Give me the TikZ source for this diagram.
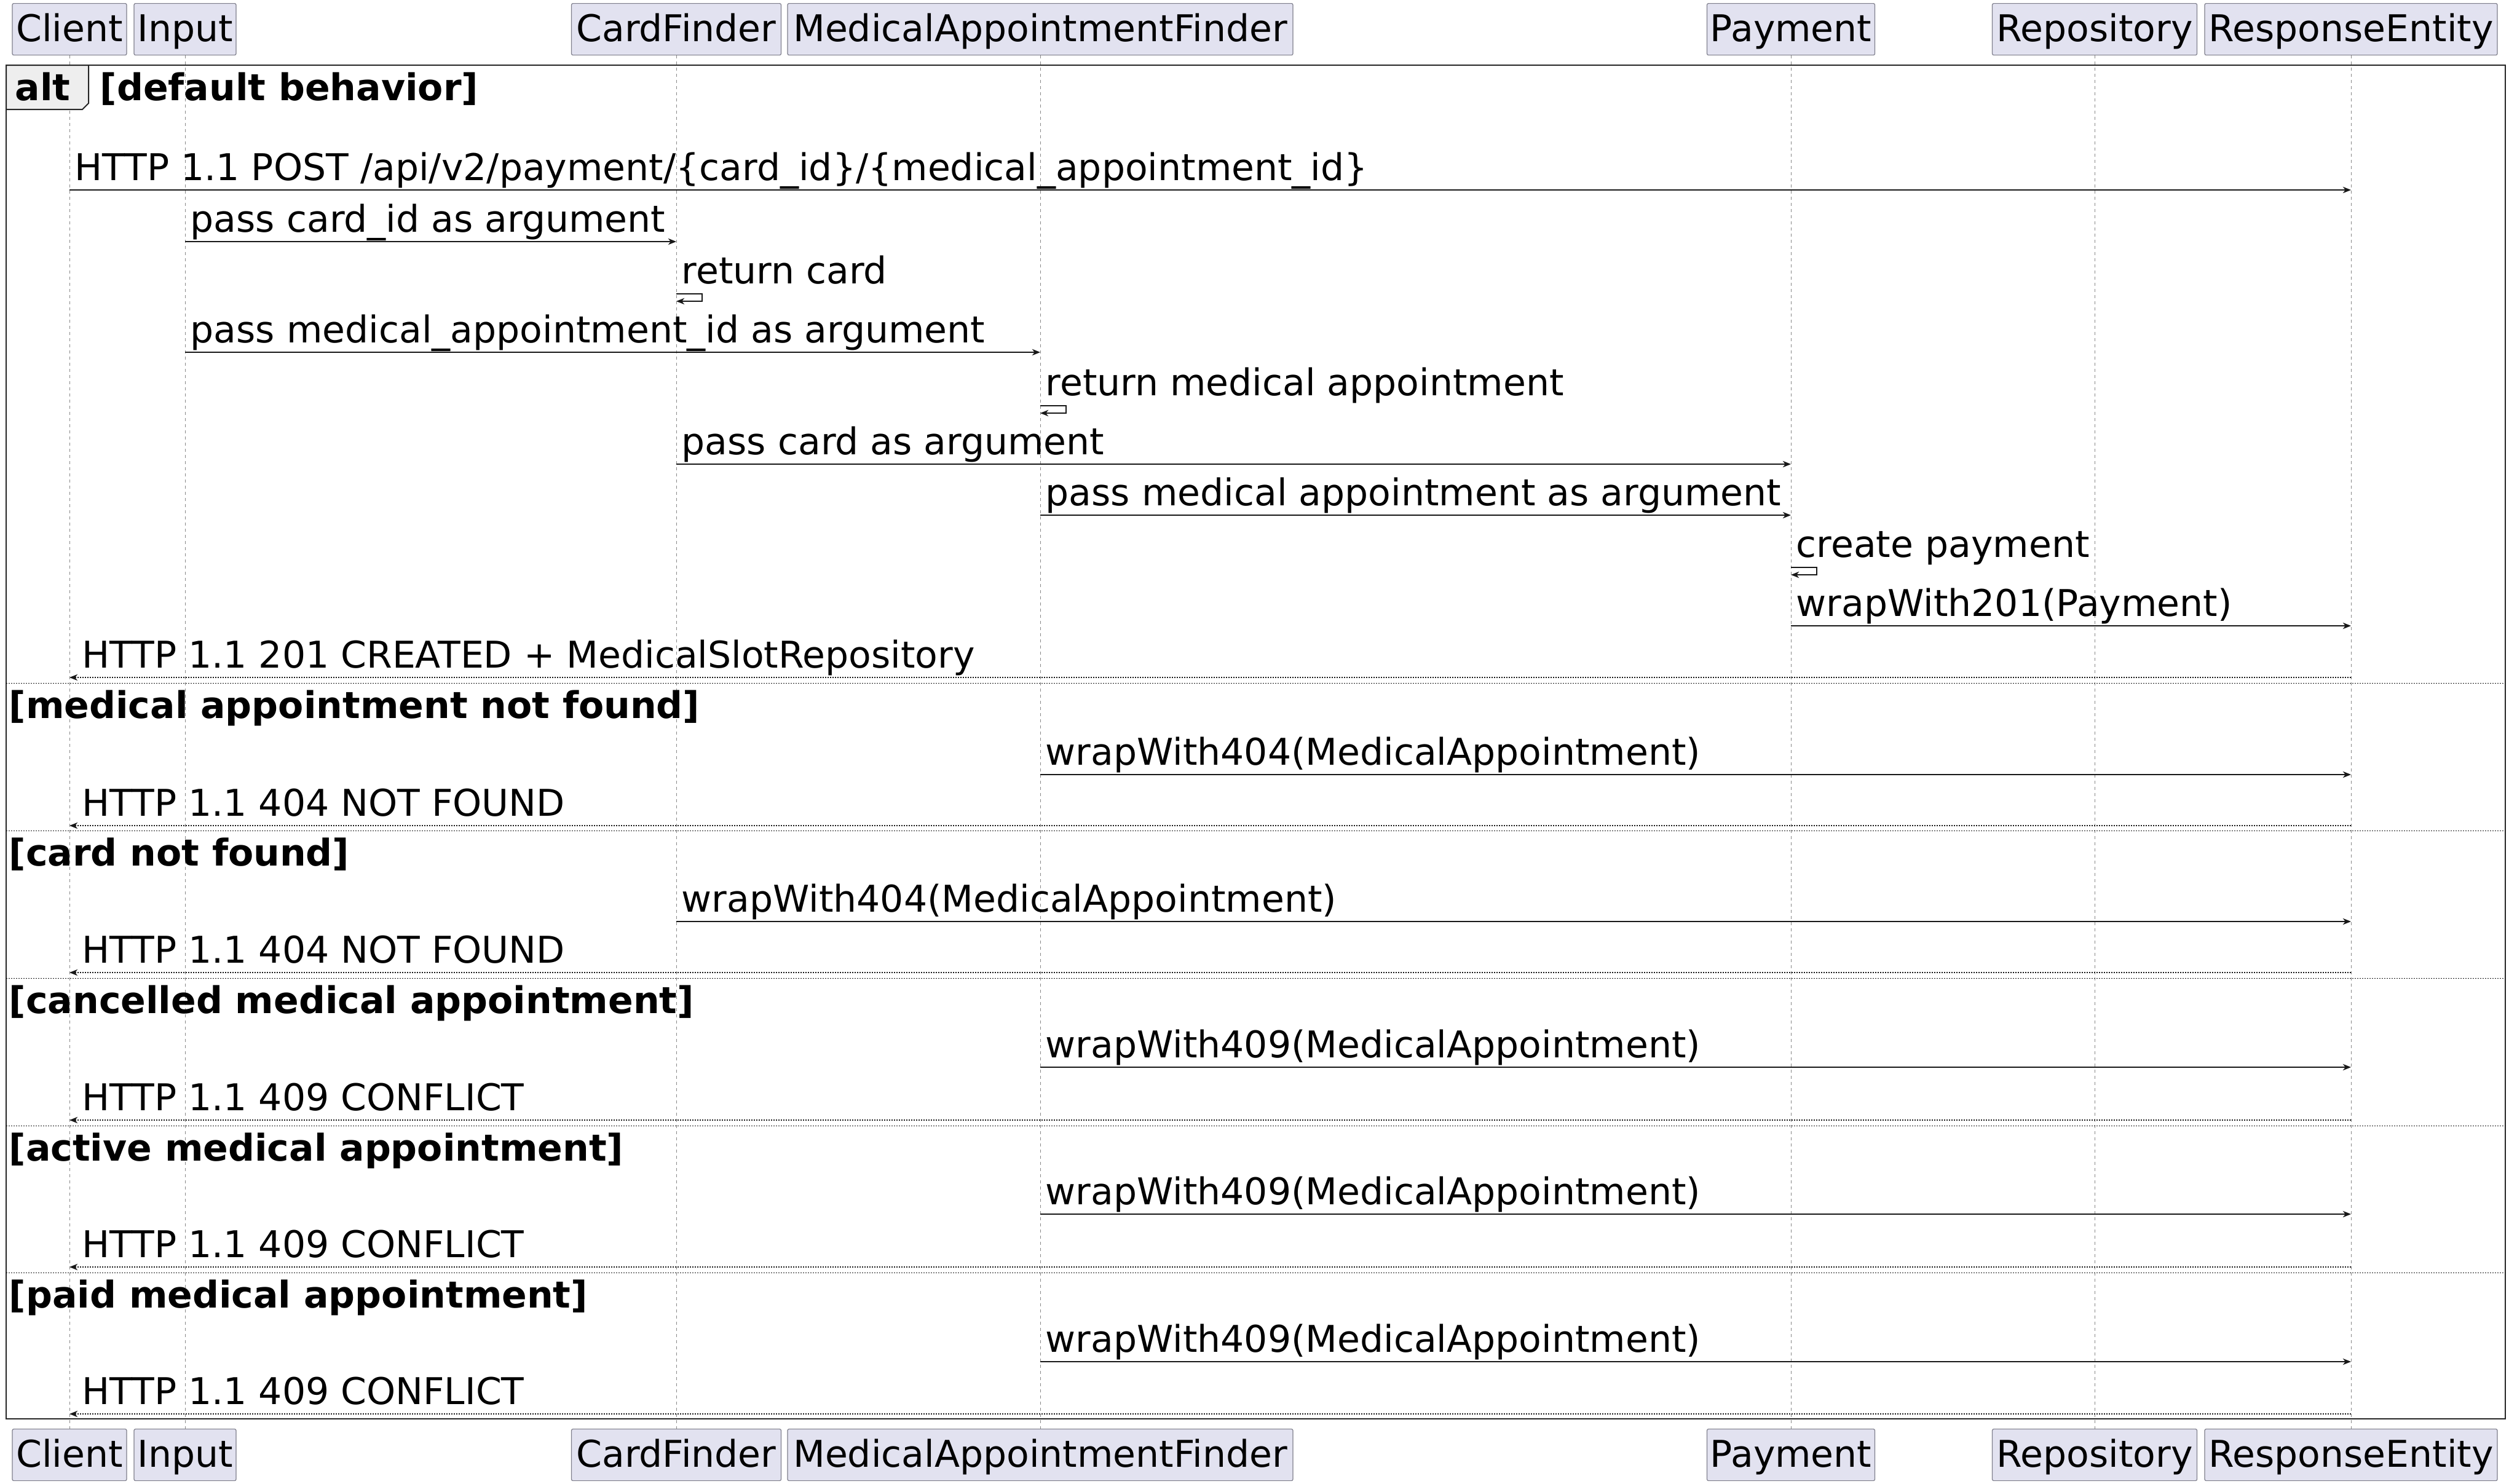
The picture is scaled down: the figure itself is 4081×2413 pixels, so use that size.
\documentclass[tikz,border=0pt]{standalone}
\usepackage{fontspec}
\setmainfont{DejaVu Sans}
\usetikzlibrary{arrows.meta,calc}
\definecolor{pfill}{HTML}{E2E2F0}
\definecolor{pborder}{HTML}{7F7F8C}
\definecolor{tabfill}{HTML}{EEEEEE}
\definecolor{lline}{HTML}{888888}
\definecolor{ink}{HTML}{181818}
\newcommand{\msgF}[5]{% name, from, to, y, text
  \draw[msgline] (#2.south |- 0,#4) -- (#3.south |- 0,#4);
  \node[msgtext] (#1) at ($(#2.south |- 0,#4)+(8,-16)$) {#5};}
\newcommand{\msgR}[5]{% name, from, to, y, text
  \draw[retline] (#2.south |- 0,#4) -- (#3.south |- 0,#4);
  \node[msgtext] (#1) at ($(#3.south |- 0,#4)+(20,-16)$) {#5};}
\newcommand{\msgS}[4]{% name, on, y, text
  \draw[msgline] (#2.south |- 0,#3) -- ++(42,0) -- ++(0,12) -- ++(-42,0);
  \node[msgtext] (#1) at ($(#2.south |- 0,#3)+(8,-17)$) {#4};}
\newcommand{\grpSep}[3]{% name, y, label
  \draw[sepline] (10,#2) -- (4075,#2);
  \node[grouptext] (#1) at (14,#2+57) {#3};}
\begin{document}
\begin{tikzpicture}[x=0.25pt,y=-0.25pt,
  every node/.style={font=\fontsize{15pt}{18pt}\selectfont},
  part/.style={draw=pborder,fill=pfill,line width=0.3pt,rounded corners=0.6pt,inner xsep=0pt,inner ysep=0pt,minimum height=21pt,text height=12pt,text depth=2pt,anchor=north},
  lifeline/.style={draw=lline,line width=0.25pt,dash pattern=on 1.25pt off 1.25pt},
  msgline/.style={draw=ink,line width=0.4pt,-{Stealth[length=3.3pt,width=2.6pt,inset=1pt]}},
  retline/.style={msgline,dash pattern=on 0.5pt off 0.5pt},
  msgtext/.style={anchor=base west,inner sep=0pt},
  grouptext/.style={anchor=base west,inner sep=0pt,font=\fontsize{15pt}{18pt}\selectfont\bfseries},
  sepline/.style={draw=ink,line width=0.25pt,dash pattern=on 0.5pt off 0.5pt},
  frame/.style={draw=black!85,line width=0.5pt}]
\useasboundingbox (0,0) rectangle (4081,2413);
% participants top
\node[part,minimum width=46.5pt] (cT) at (113,5) {Client};
\node[part,minimum width=41.5pt] (iT) at (301,5) {Input};
\node[part,minimum width=85.25pt] (cfT) at (1100,5) {CardFinder};
\node[part,minimum width=205.5pt] (mafT) at (1692,5) {MedicalAppointmentFinder};
\node[part,minimum width=68.25pt] (pT) at (2913,5) {Payment};
\node[part,minimum width=83.25pt] (rT) at (3407,5) {Repository};
\node[part,minimum width=119pt] (reT) at (3824,5) {ResponseEntity};
% participants bottom
\node[part,minimum width=46.5pt] (cB) at (113,2324) {Client};
\node[part,minimum width=41.5pt] (iB) at (301,2324) {Input};
\node[part,minimum width=85.25pt] (cfB) at (1100,2324) {CardFinder};
\node[part,minimum width=205.5pt] (mafB) at (1692,2324) {MedicalAppointmentFinder};
\node[part,minimum width=68.25pt] (pB) at (2913,2324) {Payment};
\node[part,minimum width=83.25pt] (rB) at (3407,2324) {Repository};
\node[part,minimum width=119pt] (reB) at (3824,2324) {ResponseEntity};
% lifelines
\foreach \p in {c,i,cf,maf,p,r,re}{\draw[lifeline] (\p T.south) -- (\p B.north);}
% alt frame
\draw[frame] (10,106) rectangle (4075,2308);
\draw[frame,fill=tabfill] (10,106) -- (144,106) -- (144,168) -- (134,178) -- (10,178) -- cycle;
\node[grouptext] (alt) at (24,163) {alt};
\node[grouptext] (g0) at (162,163) {[default behavior]};
% default behavior
\msgF{t1}{cT}{reT}{309}{HTTP 1.1 POST /api/v2/payment/\{card\_id\}/\{medical\_appointment\_id\}}
\msgF{t2}{iT}{cfT}{393}{pass card\_id as argument}
\msgS{t3}{cfT}{478}{return card}
\msgF{t4}{iT}{mafT}{573}{pass medical\_appointment\_id as argument}
\msgS{t5}{mafT}{660}{return medical appointment}
\msgF{t6}{cfT}{pT}{755}{pass card as argument}
\msgF{t7}{mafT}{pT}{838}{pass medical appointment as argument}
\msgS{t8}{pT}{923}{create payment}
\msgF{t9}{pT}{reT}{1018}{wrapWith201(Payment)}
\msgR{t10}{reT}{cT}{1102}{HTTP 1.1 201 CREATED + MedicalSlotRepository}
% medical appointment not found
\grpSep{g1}{1111}{[medical appointment not found]}
\msgF{t11}{mafT}{reT}{1260}{wrapWith404(MedicalAppointment)}
\msgR{t12}{reT}{cT}{1343}{HTTP 1.1 404 NOT FOUND}
% card not found
\grpSep{g2}{1351}{[card not found]}
\msgF{t13}{cfT}{reT}{1499}{wrapWith404(MedicalAppointment)}
\msgR{t14}{reT}{cT}{1582}{HTTP 1.1 404 NOT FOUND}
% cancelled
\grpSep{g3}{1591}{[cancelled medical appointment]}
\msgF{t15}{mafT}{reT}{1736}{wrapWith409(MedicalAppointment)}
\msgR{t16}{reT}{cT}{1822}{HTTP 1.1 409 CONFLICT}
% active
\grpSep{g4}{1831}{[active medical appointment]}
\msgF{t17}{mafT}{reT}{1975}{wrapWith409(MedicalAppointment)}
\msgR{t18}{reT}{cT}{2061}{HTTP 1.1 409 CONFLICT}
% paid
\grpSep{g5}{2070}{[paid medical appointment]}
\msgF{t19}{mafT}{reT}{2215}{wrapWith409(MedicalAppointment)}
\msgR{t20}{reT}{cT}{2300}{HTTP 1.1 409 CONFLICT}
\end{tikzpicture}
\end{document}
